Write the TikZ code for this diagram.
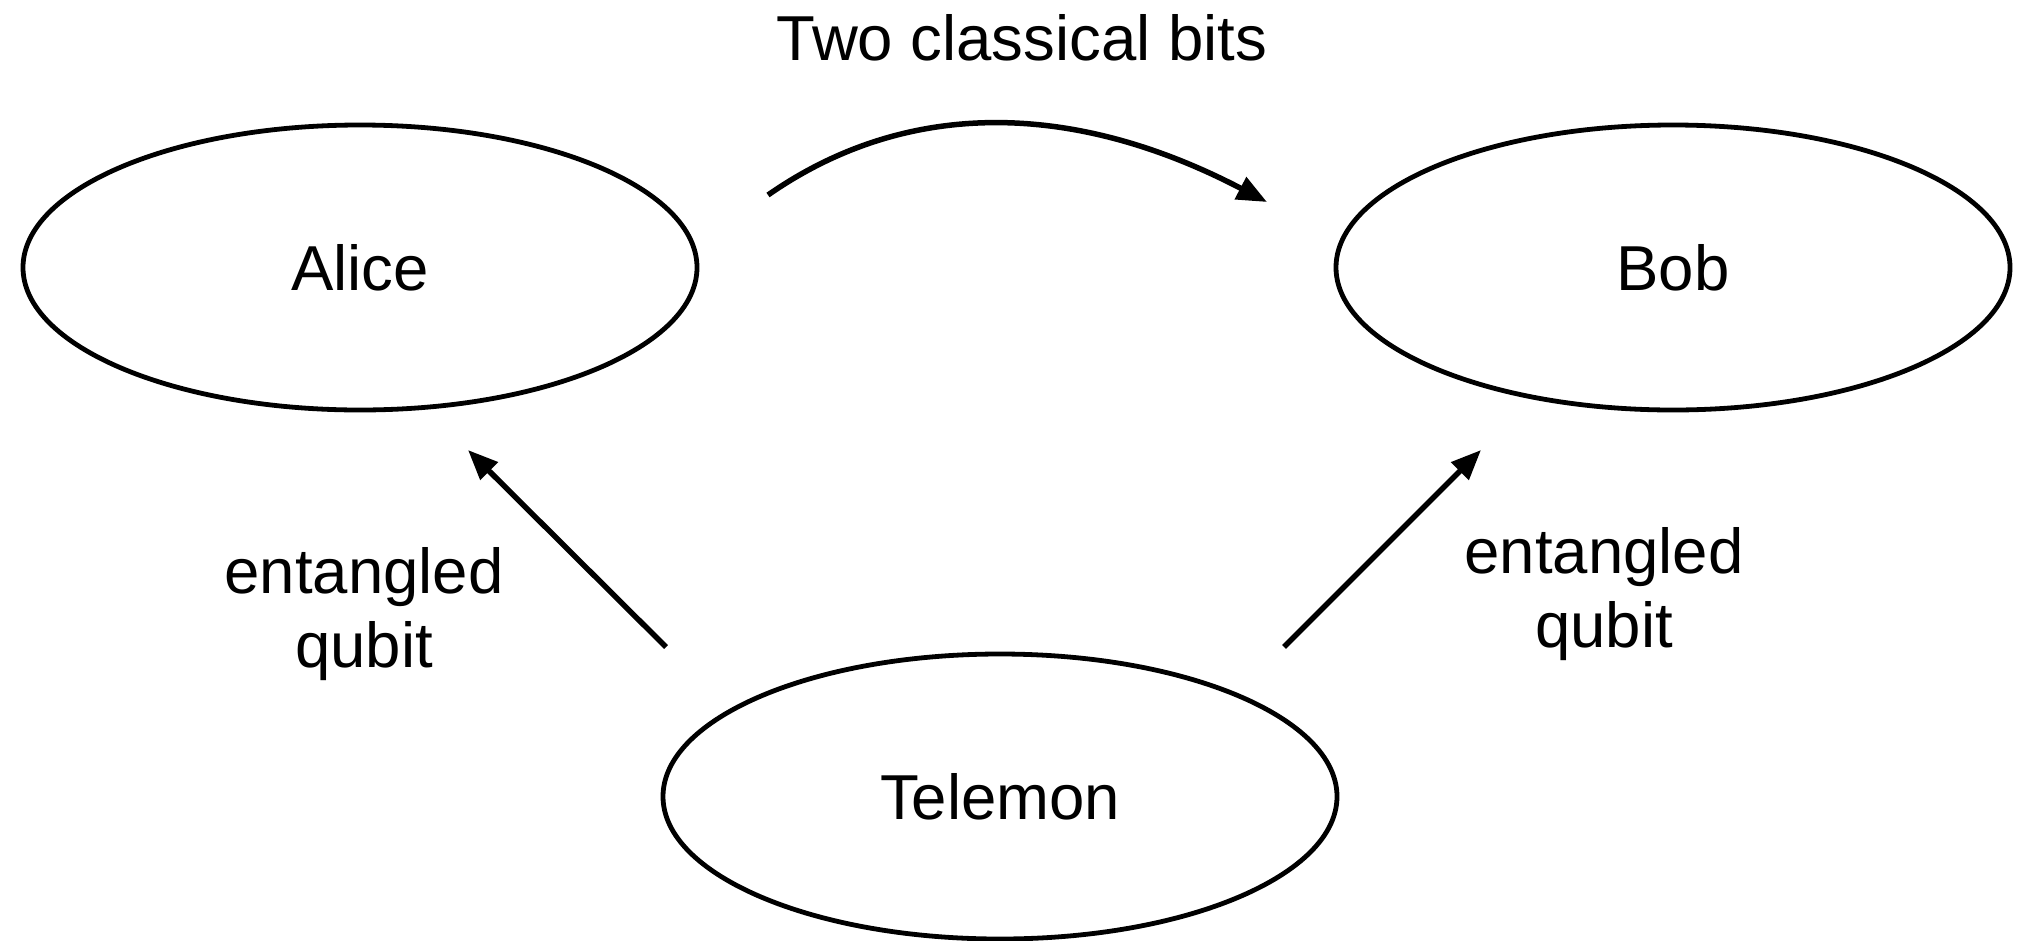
\documentclass[tikz,border=0pt]{standalone}
\usepackage{fontspec}
\setmainfont{Liberation Sans}
\usetikzlibrary{shapes.geometric,arrows.meta}

\begin{document}
\begin{tikzpicture}[x=1pt,y=-1pt,
  party/.style={ellipse,draw,line width=4.8pt,minimum width=674pt,minimum height=285pt,
    inner sep=0pt,outer sep=0pt,font=\fontsize{63.5}{74}\selectfont},
  caption/.style={inner sep=0pt,outer sep=0pt,align=center,font=\fontsize{63.5}{74}\selectfont},
  link/.style={line width=5.5pt,-{Triangle[length=30pt,width=24pt]}}]

\useasboundingbox (0,0) rectangle (2028,940);

% parties
\node[party] (alice)   at (360,267.5)  {Alice};
\node[party] (bob)     at (1673,267.5) {Bob};
\node[party] (telemon) at (1000,796.5) {Telemon};

% labels
\node[caption] (bits)  at (1022,38)  {Two classical bits};
\node[caption] (qubA)  at (364,614)  {entangled\\qubit};
\node[caption] (qubB)  at (1604,594) {entangled\\qubit};

% free ends of the connectors
\coordinate (cS) at (768,195);
\coordinate (cE) at (1267,202);
\coordinate (lS) at (666,647);
\coordinate (lE) at (468,450);
\coordinate (rS) at (1284,647);
\coordinate (rE) at (1481,450);

% classical channel Alice -> Bob
\draw[link] (cS) .. controls (906.7,98.3) and (1073,100.7) .. (cE);

% entangled qubits from Telemon
\draw[link] (lS) -- (lE);
\draw[link] (rS) -- (rE);
\end{tikzpicture}
\end{document}
